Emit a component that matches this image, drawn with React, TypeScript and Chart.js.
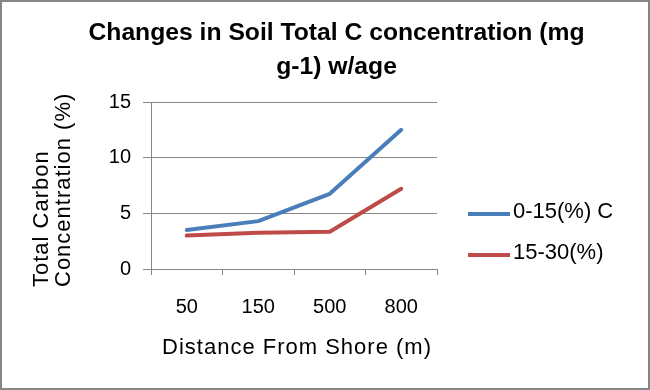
import React, { useEffect, useRef } from "react";
import { Chart, registerables } from "chart.js";

Chart.register(...registerables);

const categories = ["50", "150", "500", "800"];
const seriesNames = ["0-15(%) C", "15-30(%)"];
const topSoil = [3.5, 4.3, 6.75, 12.5];
const subSoil = [3.0, 3.25, 3.35, 7.2];
const seriesColors = ["#4A7EBB", "#BE4B48"];
const yMin = 0;
const yMax = 15;
const yStep = 5;
const titleLines = ["Changes in Soil Total C concentration (mg", "g-1) w/age"];
const yTitleLines = ["Total Carbon", "Concentration (%)"];
const xTitle = "Distance From Shore (m)";

const FONT = "'Liberation Sans', Arial, Helvetica, sans-serif";
const GRID = "#868686";

const textPlugin = {
  id: "excelTexts",
  afterDraw(chart: any) {
    const ctx = chart.ctx;
    const area = chart.chartArea;
    ctx.save();
    ctx.fillStyle = "#000";
    // chart title
    ctx.font = `bold 24.7px ${FONT}`;
    ctx.textAlign = "center";
    ctx.textBaseline = "middle";
    const cx = chart.width / 2 + 11.5;
    ctx.fillText(titleLines[0], cx, 31.5);
    ctx.fillText(titleLines[1], cx, 65);

    // axis titles
    ctx.font = `22px ${FONT}`;
    (ctx as any).letterSpacing = "1px";
    ctx.textAlign = "center";
    ctx.fillText(xTitle, (area.left + area.right) / 2 + 3, 345.5);

    ctx.save();
    ctx.translate(0, 285);
    ctx.rotate(-Math.PI / 2);
    ctx.textAlign = "left";
    yTitleLines.forEach((t, i) => ctx.fillText(t, 0, 40 + i * 21.5));
    ctx.restore();
    (ctx as any).letterSpacing = "0px";

    // legend
    ctx.font = `22px ${FONT}`;
    ctx.textAlign = "left";
    ctx.textBaseline = "middle";
    chart.data.datasets.forEach((ds: any, i: number) => {
      const y = 212 + i * 41;
      const x0 = area.right + 31;
      ctx.strokeStyle = ds.borderColor;
      ctx.lineWidth = 4;
      ctx.lineCap = "butt";
      ctx.beginPath();
      ctx.moveTo(x0, y);
      ctx.lineTo(x0 + 42, y);
      ctx.stroke();
      ctx.fillStyle = "#000";
      ctx.fillText(ds.label, x0 + 45, y - 2);
    });
    ctx.restore();
  },
};

export default function App() {
  const ref = useRef<HTMLCanvasElement | null>(null);

  useEffect(() => {
    if (!ref.current) return;
    const chart = new Chart(ref.current, {
      type: "line",
      data: {
        labels: categories,
        datasets: [
          {
            label: seriesNames[0],
            data: topSoil,
            borderColor: seriesColors[0],
            backgroundColor: seriesColors[0],
            borderWidth: 4,
            pointRadius: 0,
            tension: 0,
            borderCapStyle: "round",
            borderJoinStyle: "round",
          },
          {
            label: seriesNames[1],
            data: subSoil,
            borderColor: seriesColors[1],
            backgroundColor: seriesColors[1],
            borderWidth: 4,
            pointRadius: 0,
            tension: 0,
            borderCapStyle: "round",
            borderJoinStyle: "round",
          },
        ],
      },
      options: {
        responsive: false,
        animation: false,
        devicePixelRatio: 1,
        layout: { padding: { top: 100, right: 211, left: 0, bottom: 0 } },
        plugins: {
          legend: { display: false },
          title: { display: false },
          tooltip: { enabled: false },
        },
        scales: {
          x: {
            offset: true,
            ticks: { font: { family: FONT, size: 20 }, color: "#000", padding: 20 },
            grid: {
              offset: true,
              drawOnChartArea: false,
              drawTicks: true,
              tickLength: 6,
              color: GRID,
            },
            border: { color: GRID, width: 1 },
            title: { display: false, text: xTitle },
            afterFit: (s: any) => {
              s.height = 119;
            },
          },
          y: {
            min: yMin,
            max: yMax,
            ticks: {
              stepSize: yStep,
              font: { family: FONT, size: 20 },
              color: "#000",
              padding: 12,
            },
            grid: { color: GRID, tickLength: 8, drawTicks: true },
            border: { color: GRID, width: 1 },
            title: { display: false, text: yTitleLines },
            afterFit: (s: any) => {
              s.width = 149;
            },
          },
        },
      },
      plugins: [textPlugin],
    } as any);
    return () => chart.destroy();
  }, []);

  return (
    <div
      style={{
        position: "fixed",
        left: 0,
        top: 0,
        width: 650,
        height: 390,
        boxSizing: "border-box",
        border: `2px solid ${GRID}`,
        background: "#fff",
      }}
    >
      <canvas ref={ref} width={646} height={386} style={{ display: "block", width: 646, height: 386 }} />
    </div>
  );
}
